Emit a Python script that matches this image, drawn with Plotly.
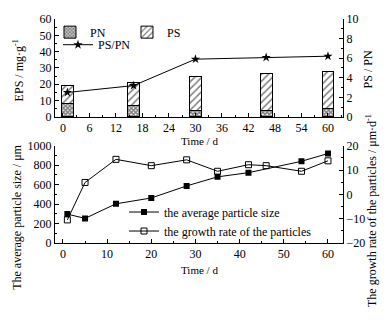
import plotly.graph_objects as go

# ---- data ----
eps_days = [1, 16, 30, 46, 60]
pn = [8.0, 7.2, 4.2, 4.2, 5.0]
ps = [11.0, 14.2, 20.3, 22.4, 23.0]
ps_pn = [2.5, 3.2, 5.9, 6.07, 6.2]

size_days = [1, 5, 12, 20, 28, 35, 42, 54, 60]
avg_size = [297, 253, 403, 463, 587, 680, 723, 840, 920]

rate_days = [1, 5, 12, 20, 28, 35, 42, 46, 54, 60]
growth_rate = [-10.5, 4.9, 14.4, 11.8, 14.2, 9.5, 12.2, 11.8, 9.5, 13.8]

top_xticks = [0, 6, 12, 18, 24, 30, 36, 42, 48, 54, 60]

FONT = "Liberation Serif"
BLACK = "#000000"

fig = go.Figure()

fig.add_trace(go.Bar(
    x=eps_days, y=pn, name="PN", width=2.7,
    marker=dict(color="white", line=dict(color=BLACK, width=1),
                pattern=dict(shape="x", fgcolor=BLACK, bgcolor="white", size=3, solidity=0.75)),
    xaxis="x", yaxis="y", legend="legend"))
fig.add_trace(go.Bar(
    x=eps_days, y=ps, name="PS", width=2.7,
    marker=dict(color="white", line=dict(color=BLACK, width=1),
                pattern=dict(shape="/", fgcolor=BLACK, bgcolor="white", size=5, solidity=0.3)),
    xaxis="x", yaxis="y", legend="legend"))
fig.add_trace(go.Scatter(
    x=eps_days, y=ps_pn, name="PS/PN", mode="lines+markers",
    line=dict(color=BLACK, width=1),
    marker=dict(symbol="star", size=7, color=BLACK),
    xaxis="x", yaxis="y2", legend="legend2"))

fig.add_trace(go.Scatter(
    x=size_days, y=avg_size, name="the average particle size", mode="lines+markers",
    line=dict(color=BLACK, width=1),
    marker=dict(symbol="square", size=6, color=BLACK),
    xaxis="x2", yaxis="y3", legend="legend3"))
fig.add_trace(go.Scatter(
    x=rate_days, y=growth_rate, name="the growth rate of the particles", mode="lines+markers",
    line=dict(color=BLACK, width=1),
    marker=dict(symbol="square-open", size=6, color=BLACK, line=dict(width=1)),
    xaxis="x2", yaxis="y4", legend="legend3"))

axis_common = dict(showline=True, linecolor=BLACK, linewidth=1, ticks="inside",
                   ticklen=4, tickcolor=BLACK, tickwidth=1, showgrid=False, zeroline=False,
                   tickfont=dict(family=FONT, size=12, color=BLACK))

xr = [-1.8, 63.4]
fig.update_layout(
    width=386, height=330,
    margin=dict(l=55, r=43, t=12, b=87),
    paper_bgcolor="white", plot_bgcolor="white",
    barmode="stack", showlegend=True,
    xaxis=dict(domain=[0, 1], range=xr, anchor="y", tickvals=top_xticks,
               minor=dict(dtick=3, ticks="inside", ticklen=2, tickcolor=BLACK), **axis_common),
    yaxis=dict(domain=[0.5628, 1], range=[0, 60], dtick=10, anchor="x",
               minor=dict(dtick=5, ticks="inside", ticklen=2, tickcolor=BLACK), **axis_common),
    yaxis2=dict(range=[0, 10], dtick=2, overlaying="y", side="right", anchor="x",
                minor=dict(dtick=1, ticks="inside", ticklen=2, tickcolor=BLACK), **axis_common),
    xaxis2=dict(domain=[0, 1], range=xr, anchor="y3", dtick=10,
                minor=dict(dtick=5, ticks="inside", ticklen=2, tickcolor=BLACK), **axis_common),
    yaxis3=dict(domain=[0, 0.4342], range=[0, 1000], dtick=200, anchor="x2",
                minor=dict(dtick=100, ticks="inside", ticklen=2, tickcolor=BLACK), **axis_common),
    yaxis4=dict(range=[-20, 20], dtick=10, overlaying="y3", side="right", anchor="x2",
                minor=dict(dtick=5, ticks="inside", ticklen=2, tickcolor=BLACK), **axis_common),
    legend=dict(x=-0.0174, y=1.006, xanchor="left", yanchor="top", orientation="h",
                entrywidth=32, traceorder="normal", bgcolor="rgba(0,0,0,0)",
                font=dict(family=FONT, size=12, color=BLACK), tracegroupgap=0),
    legend2=dict(x=0.0104, y=0.950, xanchor="left", yanchor="top",
                 bgcolor="rgba(0,0,0,0)", font=dict(family=FONT, size=12, color=BLACK)),
    legend3=dict(x=0.2396, y=0.203, xanchor="left", yanchor="top", itemwidth=30,
                 bgcolor="rgba(0,0,0,0)", font=dict(family=FONT, size=12, color=BLACK),
                 tracegroupgap=0),
)

ann_font = dict(family=FONT, size=12, color=BLACK)
time_font = dict(family=FONT, size=11, color=BLACK)
annotations = [
    dict(text="EPS / mg·g<sup>-1</sup>", x=-0.1285, y=0.7706, textangle=-90, font=ann_font),
    dict(text="PS / PN", x=1.0868, y=0.7749, textangle=-90, font=ann_font),
    dict(text="Time / d", x=0.5, y=0.4545, textangle=0, font=time_font),
    dict(text="The average particle size / μm", x=-0.132, y=0.1169, textangle=-90, font=ann_font),
    dict(text="The growth rate of the particles / μm·d<sup>-1</sup>", x=1.1007, y=0.1429,
         textangle=-90, font=ann_font),
    dict(text="Time / d", x=0.5, y=-0.1212, textangle=0, font=time_font),
]
for a in annotations:
    fig.add_annotation(xref="paper", yref="paper", xanchor="center", yanchor="middle",
                       showarrow=False, **a)

fig.write_html("out.html")
